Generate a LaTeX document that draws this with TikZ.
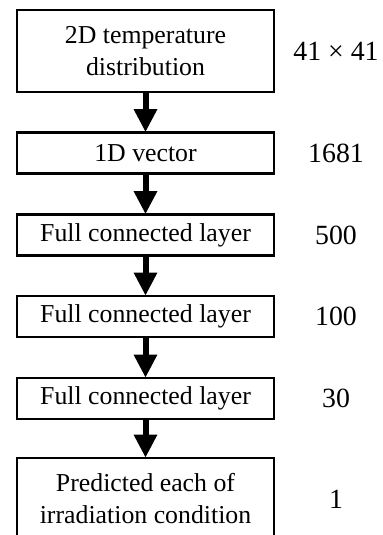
\documentclass[tikz,border=0pt]{standalone}
\usepackage{fontspec}
\setmainfont{Liberation Serif}
\usetikzlibrary{arrows.meta}
\newcommand{\fs}{\fontsize{12.9}{16}\selectfont}
\newcommand{\fn}{\fontsize{13.9}{16}\selectfont}

\begin{document}
\begin{tikzpicture}[x=0.5pt,y=-0.5pt,
  layer/.style={draw, line width=1.1pt, minimum width=128.5pt, minimum height=20.5pt,
                inner sep=0pt, align=center, font=\fs},
  tall/.style={layer, minimum height=41pt},
  size/.style={font=\fn},
  flow/.style={line width=3pt, -{Triangle[width=11pt,length=11.5pt]}, shorten >=-0.4pt}]
  \useasboundingbox (0,0) rectangle (382,535);
  \node[tall ] (temp) at (145.5, 51.0) {2D temperature\\distribution};
  \node[layer] (vec ) at (145.5,153.0) {1D vector};
  \node[layer] (fcA ) at (145.5,235.0) {Full connected layer};
  \node[layer] (fcB ) at (145.5,316.5) {Full connected layer};
  \node[layer] (fcC ) at (145.5,398.5) {Full connected layer};
  \node[tall ] (pred) at (145.5,499.0) {Predicted each of\\irradiation condition};
  \node[size] (ntemp) at (336, 51.0) {41 × 41};
  \node[size] (nvec ) at (336,153.0) {1681};
  \node[size] (nfcA ) at (336,235.0) {500};
  \node[size] (nfcB ) at (336,316.5) {100};
  \node[size] (nfcC ) at (336,398.5) {30};
  \node[size] (npred) at (336,499.0) {1};
  \draw[flow] (temp) -- (vec );
  \draw[flow] (vec ) -- (fcA );
  \draw[flow] (fcA ) -- (fcB );
  \draw[flow] (fcB ) -- (fcC );
  \draw[flow] (fcC ) -- (pred);
\end{tikzpicture}
\end{document}
